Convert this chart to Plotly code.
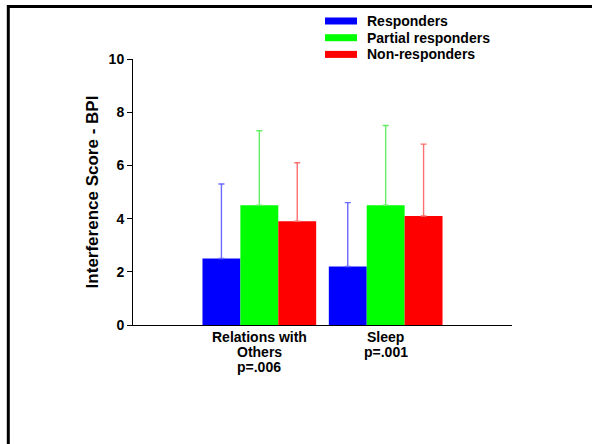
import plotly.graph_objects as go

categories = ["Relations with Others", "Sleep"]
category_tick_labels = [["Relations with", "Others", "p=.006"], ["Sleep", "p=.001"]]
series_names = ["Responders", "Partial responders", "Non-responders"]
means = {
    "Responders": [2.5, 2.2],
    "Partial responders": [4.5, 4.5],
    "Non-responders": [3.9, 4.1],
}
upper_sd = {
    "Responders": [2.8, 2.4],
    "Partial responders": [2.8, 3.0],
    "Non-responders": [2.2, 2.7],
}
y_ticks = [0, 2, 4, 6, 8, 10]

bar_colors = {"Responders": "#0000ff", "Partial responders": "#00ff00", "Non-responders": "#ff0000"}
err_colors = {"Responders": "#6a6aff", "Partial responders": "#66ee66", "Non-responders": "#ff7070"}

FAM = "Arial, Liberation Sans, sans-serif"
W, H = 592, 444
ML, MR, MT, MB = 133, 80, 59, 119
PW, PH = W - ML - MR, H - MT - MB


def px_to_paper_x(px):
    return (px - ML) / PW


def px_to_paper_y(py):
    return (H - MB - py) / PH


x_pos = list(range(len(categories)))
fig = go.Figure()
for name in series_names:
    fig.add_trace(go.Bar(
        name=name, x=x_pos, y=means[name], showlegend=False,
        marker=dict(color=bar_colors[name], line=dict(width=0)),
        error_y=dict(type="data", array=upper_sd[name], arrayminus=[0] * len(categories),
                     symmetric=False, color=err_colors[name], thickness=1.4, width=3),
    ))

tickbold = dict(family=FAM, size=14, color="black", weight="bold")
labbold = dict(family=FAM, size=14, color="black", weight="bold")

annotations = []
shapes = []
# category labels below the axis
for xi, lines in zip(x_pos, category_tick_labels):
    for i, line in enumerate(lines):
        annotations.append(dict(text=line, x=xi, xref="x", y=0, yref="paper",
                                yanchor="middle", xanchor="center", showarrow=False,
                                yshift=-(11.5 + 15 * i), font=labbold))
# legend
for i, name in enumerate(series_names):
    cy = 21 + 16.7 * i
    shapes.append(dict(type="rect", xref="paper", yref="paper",
                       x0=px_to_paper_x(325), x1=px_to_paper_x(357),
                       y0=px_to_paper_y(cy + 3.5), y1=px_to_paper_y(cy - 3.5),
                       fillcolor=bar_colors[name], line=dict(width=0)))
    annotations.append(dict(text=name, x=px_to_paper_x(365), xref="paper",
                            y=px_to_paper_y(cy), yref="paper", xanchor="left",
                            yanchor="middle", showarrow=False, font=labbold))
# slide frame (top and left edges)
shapes.append(dict(type="path", xref="paper", yref="paper",
                   path=f"M {px_to_paper_x(8.3)} {px_to_paper_y(460)} L {px_to_paper_x(8.3)} "
                        f"{px_to_paper_y(6.5)} L {px_to_paper_x(620)} {px_to_paper_y(6.5)}",
                   line=dict(color="black", width=3)))

fig.update_layout(
    width=W, height=H,
    margin=dict(l=ML, r=MR, t=MT, b=MB, autoexpand=False),
    paper_bgcolor="white", plot_bgcolor="white",
    barmode="group", bargap=0.1, bargroupgap=0,
    font=tickbold,
    showlegend=False,
    xaxis=dict(range=[-1, 2], tickmode="array", tickvals=x_pos, showticklabels=False,
               showline=True, linecolor="black", linewidth=1, ticks="", showgrid=False,
               zeroline=False),
    yaxis=dict(range=[0, 10], tickmode="array", tickvals=y_ticks, showline=True,
               linecolor="black", linewidth=1, ticks="outside", ticklen=5, tickcolor="black",
               showgrid=False, zeroline=False, tickfont=tickbold,
               title=dict(text="Interference Score - BPI",
                          font=dict(family=FAM, size=17, color="black", weight="bold"),
                          standoff=5)),
    annotations=annotations,
    shapes=shapes,
)

fig.write_html("out.html", config={"displayModeBar": False},
               post_script="document.body.style.margin='0';document.body.style.padding='0';")
